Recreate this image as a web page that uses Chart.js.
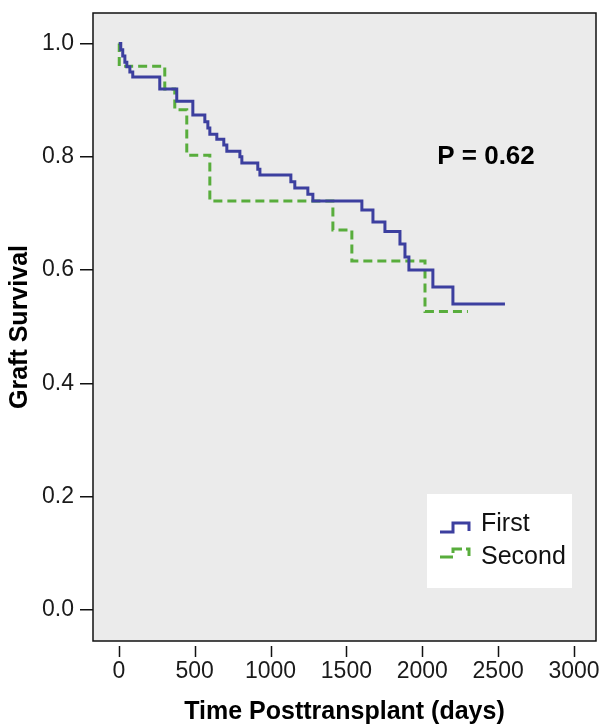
<!DOCTYPE html>
<html lang="en">
<head>
<meta charset="UTF-8">
<title>Graft Survival</title>
<script src="https://cdn.jsdelivr.net/npm/chart.js"></script>
<style>
  html, body { margin: 0; padding: 0; background: #fff; }
  #wrap { width: 599px; height: 725px; }
</style>
</head>
<body>
<div id="wrap"><canvas id="km" width="599" height="725"></canvas></div>
<script>
// Kaplan-Meier estimates (days, survival after the drop)
const firstTimes = [0, 13, 26, 40, 53, 73, 92, 270, 382, 488, 567, 587, 600, 646, 692, 712, 798, 811, 916, 930, 1134, 1160, 1246, 1279, 1602, 1675, 1754, 1853, 1886, 1912, 2070, 2202, 2545];
const firstSurv = [1.0, 0.989, 0.978, 0.967, 0.959, 0.950, 0.941, 0.920, 0.898, 0.874, 0.862, 0.851, 0.840, 0.831, 0.821, 0.810, 0.800, 0.789, 0.778, 0.768, 0.756, 0.745, 0.734, 0.722, 0.706, 0.685, 0.668, 0.646, 0.623, 0.600, 0.570, 0.540, 0.540];

const secondTimes = [0, 3, 303, 369, 448, 600, 1411, 1536, 2018, 2301];
const secondSurv = [1.0, 0.960, 0.920, 0.883, 0.803, 0.722, 0.671, 0.616, 0.527, 0.527];

const xTickValues = [0, 500, 1000, 1500, 2000, 2500, 3000];
const yTickValues = [0.0, 0.2, 0.4, 0.6, 0.8, 1.0];

const seriesNames = ['First', 'Second'];
const pLabel = 'P = 0.62';

const BLUE = '#3c3f9f';
const GREEN = '#58ad3c';
const FONT = '"Liberation Sans", Arial, sans-serif';

var toPoints = (xs, ys) => xs.map((x, i) => ({ x: x, y: ys[i] }));

// grey panel, frame, x tick marks, P value and the legend box
const decor = {
  id: 'decor',
  beforeDatasetsDraw(chart) {
    const a = chart.chartArea, ctx = chart.ctx;
    ctx.save();
    ctx.fillStyle = '#ebebeb';
    ctx.fillRect(a.left, a.top, a.right - a.left, a.bottom - a.top);
    ctx.restore();
  },
  afterDraw(chart) {
    const a = chart.chartArea, ctx = chart.ctx;
    const xs = chart.scales.x, ys = chart.scales.y;
    ctx.save();
    ctx.strokeStyle = '#111';
    ctx.lineWidth = 1.5;
    ctx.strokeRect(a.left, a.top, a.right - a.left, a.bottom - a.top);

    // x ticks sit a little below the frame
    ctx.beginPath();
    xs.ticks.forEach(t => {
      const px = Math.round(xs.getPixelForValue(t.value)) + 0.5;
      ctx.moveTo(px, a.bottom + 5);
      ctx.lineTo(px, a.bottom + 16);
    });
    ctx.stroke();

    // P value
    ctx.fillStyle = '#000';
    ctx.font = 'bold 26px ' + FONT;
    ctx.textAlign = 'center';
    ctx.textBaseline = 'middle';
    ctx.fillText(pLabel, xs.getPixelForValue(2420), ys.getPixelForValue(0.80));

    // legend
    const lx = 427, ly = 494;
    ctx.fillStyle = '#fff';
    ctx.fillRect(lx, ly, 145, 94);
    ctx.lineWidth = 3;
    ctx.strokeStyle = BLUE;
    ctx.beginPath();
    ctx.moveTo(lx + 13, ly + 38);
    ctx.lineTo(lx + 26, ly + 38);
    ctx.lineTo(lx + 26, ly + 29);
    ctx.lineTo(lx + 42, ly + 29);
    ctx.lineTo(lx + 42, ly + 37);
    ctx.stroke();
    ctx.strokeStyle = GREEN;
    ctx.setLineDash([13, 4]);
    ctx.beginPath();
    ctx.moveTo(lx + 13, ly + 63);
    ctx.lineTo(lx + 26, ly + 63);
    ctx.lineTo(lx + 26, ly + 55);
    ctx.lineTo(lx + 42, ly + 55);
    ctx.lineTo(lx + 42, ly + 62);
    ctx.stroke();
    ctx.setLineDash([]);
    ctx.fillStyle = '#111';
    ctx.font = '25px ' + FONT;
    ctx.textAlign = 'left';
    ctx.textBaseline = 'middle';
    ctx.fillText(seriesNames[0], lx + 54, ly + 30);
    ctx.fillText(seriesNames[1], lx + 54, ly + 63);
    ctx.restore();
  }
};

const config = {
  type: 'line',
  data: {
    datasets: [{
      label: seriesNames[0],
      data: toPoints(firstTimes, firstSurv),
      borderColor: BLUE,
      borderWidth: 3,
      stepped: 'before',
      pointRadius: 0,
      fill: false
    }, {
      label: seriesNames[1],
      data: toPoints(secondTimes, secondSurv),
      borderColor: GREEN,
      borderWidth: 3,
      borderDash: [9, 5],
      stepped: 'before',
      pointRadius: 0,
      fill: false
    }]
  },
  options: {
    responsive: false,
    animation: false,
    devicePixelRatio: 1,
    layout: { padding: { top: 13, right: 3, left: 0, bottom: 0 } },
    plugins: { legend: { display: false }, tooltip: { enabled: false } },
    scales: {
      x: {
        type: 'linear',
        min: -170,
        max: 3145,
        afterFit: s => { s.height = 84; s.paddingLeft = 0; s.paddingRight = 0; },
        afterBuildTicks: s => { s.ticks = xTickValues.map(v => ({ value: v })); },
        grid: { display: false },
        border: { display: false },
        ticks: {
          padding: 9,
          color: '#1a1a1a',
          font: { family: FONT, size: 23 },
          maxRotation: 0,
          autoSkip: false,
          callback: v => String(v)
        },
        title: {
          display: true,
          text: 'Time Posttransplant (days)',
          color: '#000',
          font: { family: FONT, size: 25, weight: 'bold', lineHeight: 1 },
          padding: { top: 0, bottom: 0 }
        }
      },
      y: {
        type: 'linear',
        min: -0.055,
        max: 1.054,
        afterFit: s => { s.width = 93; s.paddingTop = 0; s.paddingBottom = 0; },
        afterBuildTicks: s => { s.ticks = yTickValues.map(v => ({ value: v })); },
        grid: { display: true, drawOnChartArea: false, drawTicks: true, tickLength: 13, color: '#111', lineWidth: 1.5 },
        border: { display: false },
        ticks: {
          padding: 6,
          color: '#1a1a1a',
          font: { family: FONT, size: 23 },
          callback: v => v.toFixed(1)
        },
        title: {
          display: true,
          text: 'Graft Survival',
          color: '#000',
          font: { family: FONT, size: 25, weight: 'bold', lineHeight: 1 },
          padding: { top: 8, bottom: 0 }
        }
      }
    }
  },
  plugins: [decor]
};

new Chart(document.getElementById('km'), config);
</script>
</body>
</html>
